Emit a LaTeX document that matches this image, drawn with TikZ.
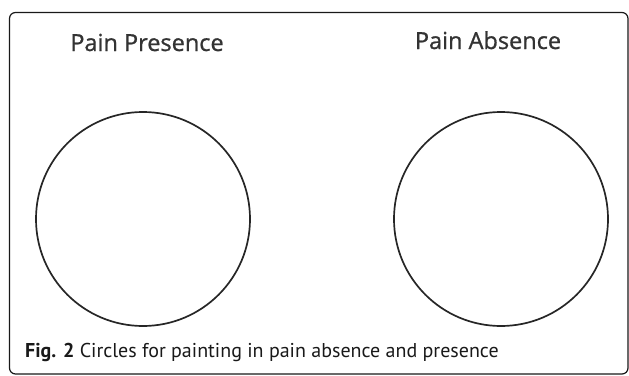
\documentclass[tikz,border=0pt]{standalone}
\usepackage{fontspec}
\setmainfont{Open Sans}
\newfontfamily\titlefont[FakeBold=0.9]{Open Sans}
\newfontfamily\capfont{PT Sans}
\usetikzlibrary{positioning}

\begin{document}
\begin{tikzpicture}[x=1pt, y=-1pt,
    title/.style={anchor=base, inner sep=0pt, font=\titlefont\fontsize{23.5}{28}\selectfont, text=black!80},
    ring/.style={draw=black!85, line width=1.7pt, circle, minimum size=214pt, inner sep=0pt},
    caption/.style={anchor=base west, inner sep=0pt, font=\capfont\fontsize{20}{24}\selectfont, text=black!90}
]
\useasboundingbox (0,0) rectangle (629,375);
% frame round the figure
\draw[black!90, line width=1.2pt, rounded corners=6pt] (9.5,12.5) rectangle (628,374);

\node[title] (presenceTitle) at (147,51) {Pain Presence};
\node[title] (absenceTitle) at (488,49) {Pain Absence};

\node[ring] (presence) at (143,219) {};
\node[ring] (absence) at (501,219) {};

\node[caption] (figCaption) at (25,357) {\textbf{Fig. 2} Circles for painting in pain absence and presence};
\end{tikzpicture}
\end{document}
